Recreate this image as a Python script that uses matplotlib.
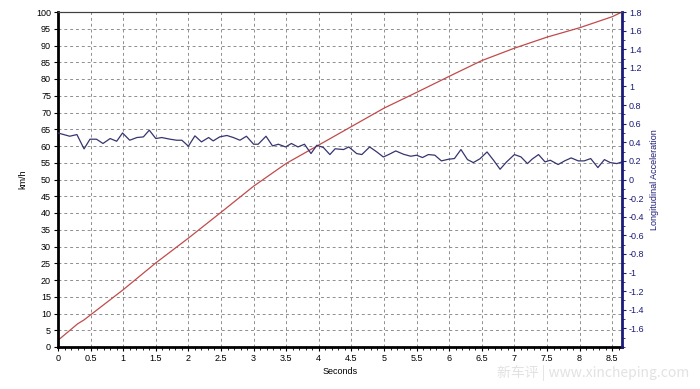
import matplotlib.pyplot as plt
import numpy as np
from matplotlib.ticker import FuncFormatter, MultipleLocator

plt.rcParams["font.family"] = ["Liberation Sans", "DejaVu Sans"]

# Speed trace (km/h)
speed_t = [0.0, 0.3, 0.4, 0.5, 1.0, 1.5, 2.0, 2.5, 3.0, 3.5, 4.0, 4.5, 5.0,
           5.5, 6.0, 6.5, 7.0, 7.5, 8.0, 8.5, 8.65]
speed_kmh = [2.0, 6.9, 8.1, 9.6, 17.1, 25.1, 32.5, 40.2, 48.0, 54.8, 60.3, 65.8,
             71.3, 76.0, 80.8, 85.5, 89.2, 92.5, 95.3, 98.6, 100.0]

# Longitudinal acceleration trace (g)
acc_t = [0.00, 0.18, 0.29, 0.40, 0.49, 0.59, 0.69, 0.80, 0.90, 0.99, 1.10, 1.21,
         1.31, 1.40, 1.50, 1.59, 1.72, 1.82, 1.90, 2.00, 2.10, 2.20, 2.31, 2.38,
         2.48, 2.59, 2.69, 2.79, 2.89, 3.00, 3.07, 3.19, 3.29, 3.38, 3.49, 3.58,
         3.68, 3.78, 3.88, 3.97, 4.07, 4.17, 4.25, 4.38, 4.46, 4.58, 4.66, 4.78,
         4.89, 4.99, 5.08, 5.18, 5.30, 5.41, 5.50, 5.59, 5.68, 5.78, 5.88, 5.99,
         6.08, 6.18, 6.28, 6.37, 6.47, 6.58, 6.68, 6.78, 6.88, 7.00, 7.10, 7.20,
         7.27, 7.37, 7.47, 7.55, 7.67, 7.77, 7.87, 7.98, 8.07, 8.17, 8.28, 8.38,
         8.47, 8.57, 8.65]
acc_g = [0.50, 0.465, 0.483, 0.329, 0.433, 0.433, 0.387, 0.44, 0.411, 0.50, 0.422,
         0.451, 0.458, 0.53, 0.44, 0.451, 0.433, 0.422, 0.422, 0.358, 0.469, 0.404,
         0.451, 0.415, 0.458, 0.473, 0.451, 0.422, 0.465, 0.379, 0.379, 0.465,
         0.361, 0.379, 0.35, 0.387, 0.35, 0.379, 0.279, 0.368, 0.344, 0.268, 0.33,
         0.322, 0.35, 0.279, 0.268, 0.35, 0.296, 0.242, 0.271, 0.307, 0.271, 0.25,
         0.261, 0.236, 0.268, 0.261, 0.20, 0.218, 0.225, 0.322, 0.214, 0.182,
         0.222, 0.296, 0.207, 0.11, 0.189, 0.268, 0.243, 0.171, 0.218, 0.268,
         0.189, 0.207, 0.161, 0.20, 0.232, 0.20, 0.20, 0.225, 0.128, 0.214, 0.182,
         0.171, 0.189]

navy = "#1c1c78"
red = "#c24a4a"
line_blue = "#35356f"

fig = plt.figure(figsize=(7.0, 3.89), dpi=100)
ax = fig.add_axes([58 / 700, 1 - 347 / 389, 564 / 700, 335 / 389])
ax2 = ax.twinx()

ax.plot(speed_t, speed_kmh, color=red, linewidth=0.9)
ax2.plot(acc_t, acc_g, color=line_blue, linewidth=0.9)

ax.set_xlim(0, 8.65)
ax.set_ylim(0, 100)
ax2.set_ylim(-1.8, 1.8)

ax.xaxis.set_major_locator(MultipleLocator(0.5))
ax.xaxis.set_minor_locator(MultipleLocator(0.1))
ax.yaxis.set_major_locator(MultipleLocator(5))
ax2.set_yticks(np.round(np.arange(-1.6, 1.81, 0.2), 1))
ax2.yaxis.set_minor_locator(MultipleLocator(0.1))

fmt = FuncFormatter(lambda v, p: f"{round(v, 1) + 0.0:g}")
ax.xaxis.set_major_formatter(fmt)
ax2.yaxis.set_major_formatter(fmt)

ax.grid(True, which="major", color="#8e8e8e", linestyle=(0, (3, 3)), linewidth=0.7)
ax.set_axisbelow(True)

ax.tick_params(axis="both", which="major", labelsize=6.5, length=3, width=0.8,
               colors="black", pad=2)
ax.tick_params(axis="x", which="minor", length=2, width=0.6)
ax2.tick_params(axis="y", which="major", labelsize=6.5, length=3, width=0.8,
                colors=navy, pad=2)
ax2.tick_params(axis="y", which="minor", length=2, width=0.6, colors=navy)

for a in (ax, ax2):
    a.spines["top"].set_color("#404040")
    a.spines["top"].set_linewidth(0.8)
ax.spines["left"].set_linewidth(2)
ax.spines["bottom"].set_linewidth(2)
ax2.spines["left"].set_visible(False)
ax2.spines["bottom"].set_visible(False)
ax2.spines["right"].set_color(navy)
ax2.spines["right"].set_linewidth(2)
ax.spines["right"].set_visible(False)

ax.set_xlabel("Seconds", fontsize=6.5, labelpad=3)
ax.set_ylabel("km/h", fontsize=6.5, labelpad=6)
ax2.set_ylabel("Longitudinal Acceleration", fontsize=6.5, color=navy, labelpad=4)

fig.text(0.985, 0.02, "新车评 | www.xincheping.com", ha="right", va="bottom",
         fontsize=10, color="#e2e2e2",
         family=["Noto Sans CJK SC", "DejaVu Sans"])

fig.savefig("out.png", dpi=100)
